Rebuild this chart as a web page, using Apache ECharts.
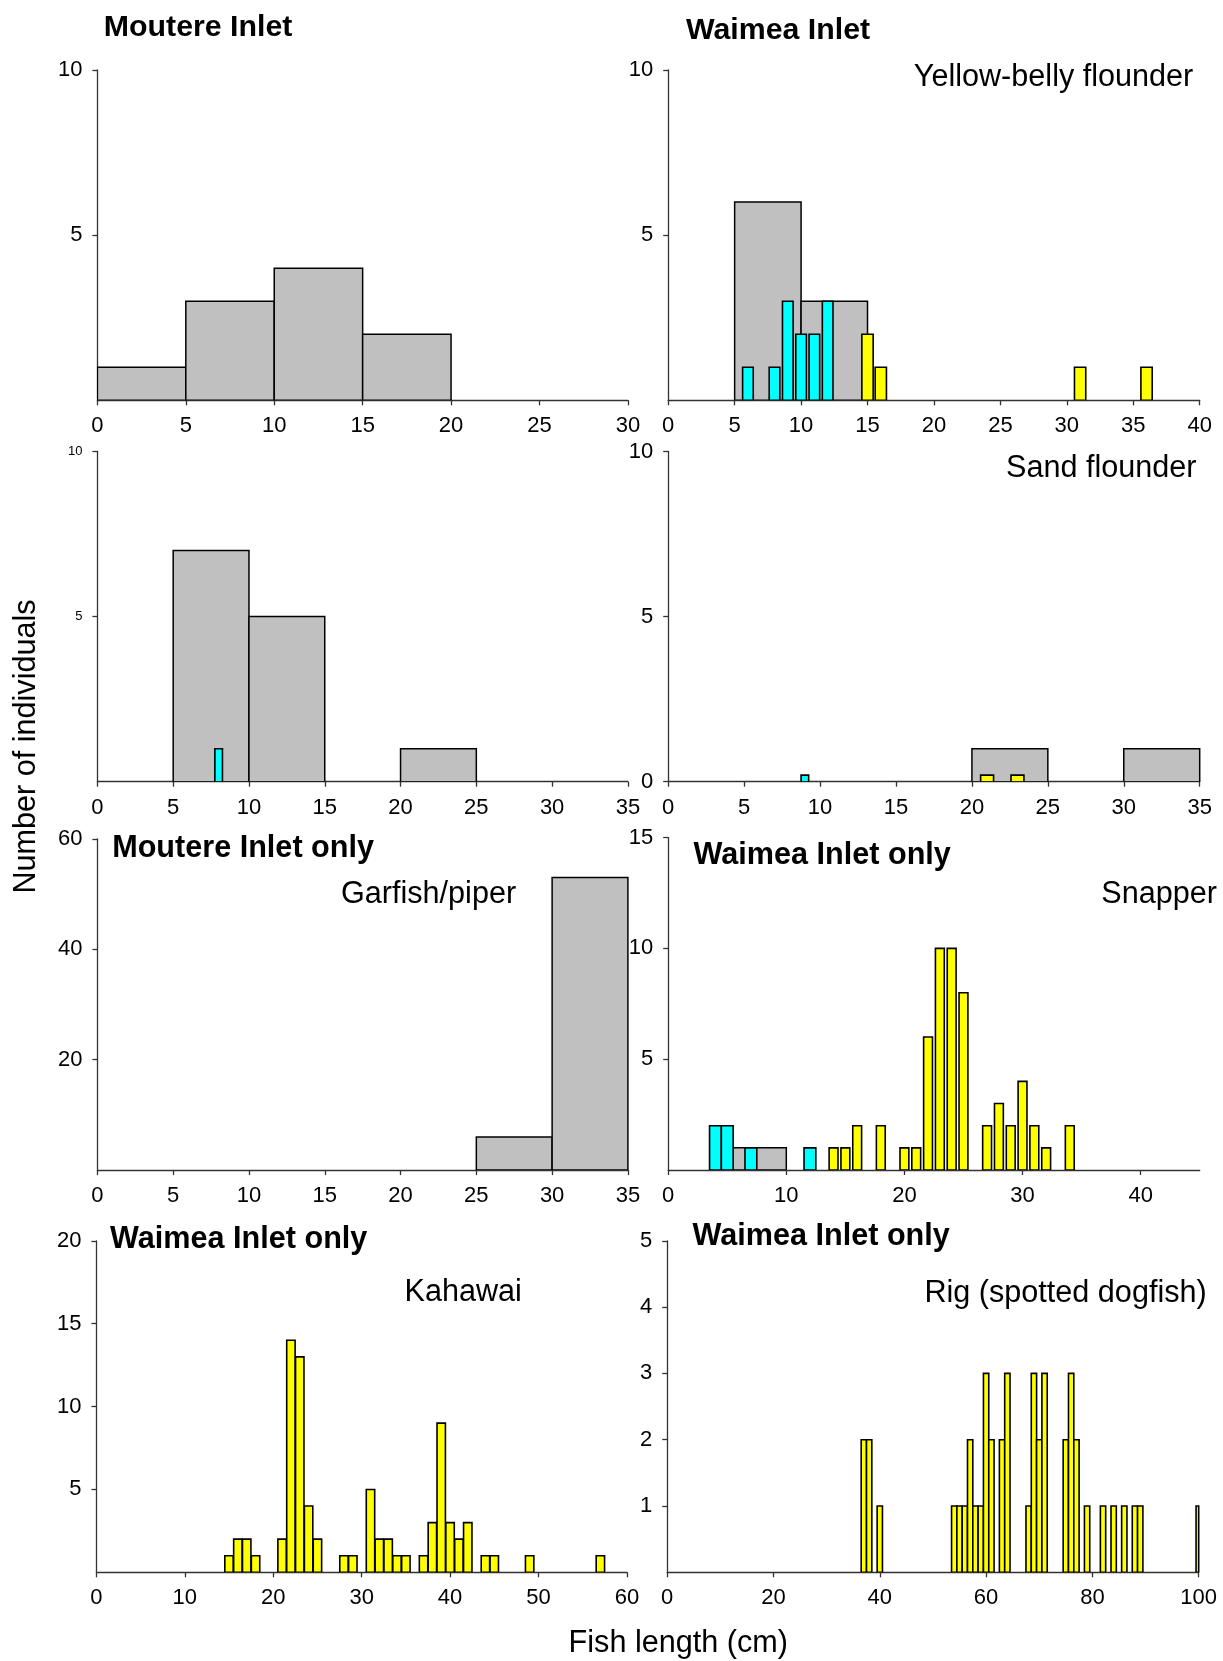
<!DOCTYPE html>
<html>
<head>
<meta charset="utf-8">
<title>Fish length frequencies – Moutere and Waimea inlets</title>
<script src="https://cdn.jsdelivr.net/npm/echarts@6/dist/echarts.min.js"></script>
<style>
  html, body { margin: 0; padding: 0; background: #fff; }
  #chart { width: 1223px; height: 1661px; }
</style>
</head>
<body>
<div id="chart"></div>
<script>
// ---- Data -----------------------------------------------------------------
// Width (cm) of the grouped length-frequency classes (grey columns)
const BIN_CM = 5;

// Yellow-belly flounder, Moutere Inlet
const mYbBins = [0, 5, 10, 15];
const mYbCounts = [1, 3, 4, 2];

// Yellow-belly flounder, Waimea Inlet
const wYbBins = [5, 10];
const wYbCounts = [6, 3];
const wYbCyanLen = [6, 8, 9, 10, 11, 12];
const wYbCyanN = [1, 1, 3, 2, 2, 3];
const wYbYellowLen = [15, 16, 31, 36];
const wYbYellowN = [2, 1, 1, 1];

// Sand flounder, Moutere Inlet
const mSfBins = [5, 10, 20];
const mSfCounts = [7, 5, 1];
const mSfCyanLen = [8];
const mSfCyanN = [1];

// Sand flounder, Waimea Inlet
const wSfBins = [20, 30];
const wSfCounts = [1, 1];
const wSfCyanLen = [9];
const wSfCyanN = [0.2];
const wSfYellowLen = [21, 23];
const wSfYellowN = [0.2, 0.2];

// Garfish/piper, Moutere Inlet only
const garBins = [25, 30];
const garCounts = [6, 53];

// Snapper, Waimea Inlet only
const snapBins = [5];
const snapCounts = [1];
const snapCyanLen = [4, 5, 7, 12];
const snapCyanN = [2, 2, 1, 1];
const snapYellowLen = [14, 15, 16, 18, 20, 21, 22, 23, 24, 25, 27, 28, 29, 30, 31, 32, 34];
const snapYellowN = [1, 1, 2, 2, 1, 1, 6, 10, 10, 8, 2, 3, 2, 4, 2, 1, 2];

// Kahawai, Waimea Inlet only
const kahLen = [15, 16, 17, 18, 21, 22, 23, 24, 25, 28, 29, 31, 32, 33, 34, 35, 37, 38, 39, 40, 41, 42, 44, 45, 49, 57];
const kahN = [1, 2, 2, 1, 2, 14, 13, 4, 2, 1, 1, 5, 2, 2, 1, 1, 1, 3, 9, 3, 2, 3, 1, 1, 1, 1];

// Rig (spotted dogfish), Waimea Inlet only
const rigLen = [37, 38, 40, 54, 55, 56, 57, 58, 59, 60, 61, 63, 64, 68, 69, 70, 71, 75, 76, 77, 79, 82, 84, 86, 88, 89, 100];
const rigN = [2, 2, 1, 1, 1, 1, 2, 1, 1, 3, 2, 2, 3, 1, 3, 2, 3, 2, 3, 2, 1, 1, 1, 1, 1, 1, 1];

// Tick values
const xTicks30 = [0, 5, 10, 15, 20, 25, 30];
const xTicks35 = [0, 5, 10, 15, 20, 25, 30, 35];
const xTicks40 = [0, 5, 10, 15, 20, 25, 30, 35, 40];
const xTicksSnap = [0, 10, 20, 30, 40];
const xTicks60 = [0, 10, 20, 30, 40, 50, 60];
const xTicks100 = [0, 20, 40, 60, 80, 100];
const yTicks10 = [5, 10];
const yTicks10z = [0, 5, 10];
const yTicks60 = [20, 40, 60];
const yTicks15 = [5, 10, 15];
const yTicks20 = [5, 10, 15, 20];
const yTicks5 = [1, 2, 3, 4, 5];

// ---- Styling ----------------------------------------------------------------
const FONT = '"Liberation Sans", Arial, Helvetica, sans-serif';
const GREY = '#C0C0C0';
const CYAN = '#00FFFF';
const YELLOW = '#FFFF00';
const TICK_FONT = 22;

const chart = echarts.init(document.getElementById('chart'), null, { renderer: 'canvas' });

// Plot areas, one per panel
const grids = [
  { left: 97.4, top: 70,    width: 530.5, height: 330.3 },
  { left: 668.2, top: 70,   width: 531.5, height: 330.3 },
  { left: 97.4, top: 451.5, width: 530.5, height: 330.2 },
  { left: 668.2, top: 451.5, width: 531.5, height: 330.2 },
  { left: 97.4, top: 838.8, width: 530.5, height: 331.3 },
  { left: 668.2, top: 837.6, width: 531.5, height: 332.4 },
  { left: 96.4, top: 1240.8, width: 530.5, height: 331.5 },
  { left: 667.2, top: 1240.8, width: 531.5, height: 331.5 }
].map(g => Object.assign({ containLabel: false, outerBoundsMode: 'none' }, g));

function clipTo(rect, cs) {
  return echarts.graphic.clipRectByRect(rect, { x: cs.x, y: cs.y, width: cs.width, height: cs.height });
}

// Grey columns spanning a whole length class
function classSeries(gi, starts, counts) {
  return {
    type: 'custom', xAxisIndex: gi, yAxisIndex: gi, clip: true,
    data: starts.map((s, i) => [s, counts[i]]),
    renderItem: (params, api) => {
      const s = api.value(0), n = api.value(1);
      const a = api.coord([s, n]);
      const b = api.coord([s + BIN_CM, 0]);
      const shape = clipTo({ x: a[0], y: a[1], width: b[0] - a[0], height: b[1] - a[1] }, params.coordSys);
      return shape && { type: 'rect', shape, style: { fill: GREY, stroke: '#000', lineWidth: 1.5 } };
    }
  };
}

// Narrow columns centred on individual lengths
function lengthSeries(gi, lens, counts, fill, barCm) {
  return {
    type: 'custom', xAxisIndex: gi, yAxisIndex: gi, clip: true,
    data: lens.map((l, i) => [l, counts[i]]),
    renderItem: (params, api) => {
      const l = api.value(0), n = api.value(1);
      const a = api.coord([l - barCm / 2, n]);
      const b = api.coord([l + barCm / 2, 0]);
      const shape = clipTo({ x: a[0], y: a[1], width: b[0] - a[0], height: b[1] - a[1] }, params.coordSys);
      return shape && { type: 'rect', shape, style: { fill, stroke: '#000', lineWidth: 1.6 } };
    }
  };
}

const panels = [
  { xMax: 30, xTicks: xTicks30, yMax: 10, yTicks: yTicks10 },
  { xMax: 40, xTicks: xTicks40, yMax: 10, yTicks: yTicks10 },
  { xMax: 35, xTicks: xTicks35, yMax: 10, yTicks: yTicks10, yFont: 13 },
  { xMax: 35, xTicks: xTicks35, yMax: 10, yTicks: yTicks10z },
  { xMax: 35, xTicks: xTicks35, yMax: 60, yTicks: yTicks60 },
  { xMax: 45, xTicks: xTicksSnap, yMax: 15, yTicks: yTicks15 },
  { xMax: 60, xTicks: xTicks60, yMax: 20, yTicks: yTicks20 },
  { xMax: 100, xTicks: xTicks100, yMax: 5, yTicks: yTicks5 }
];

const axisLine = { show: true, onZero: false, lineStyle: { color: '#333', width: 1.3 } };

const xAxis = panels.map((p, i) => ({
  type: 'value', gridIndex: i, min: 0, max: p.xMax,
  axisLine,
  axisTick: { show: true, length: 5, customValues: p.xTicks, lineStyle: { color: '#333', width: 1.3 } },
  axisLabel: { customValues: p.xTicks, margin: 15, color: '#000', fontSize: TICK_FONT, fontFamily: FONT },
  splitLine: { show: false }
}));

const yAxis = panels.map((p, i) => ({
  type: 'value', gridIndex: i, min: 0, max: p.yMax,
  axisLine,
  axisTick: { show: true, length: 5, customValues: p.yTicks, lineStyle: { color: '#333', width: 1.3 } },
  axisLabel: { customValues: p.yTicks, margin: 15, color: '#000', fontSize: p.yFont || TICK_FONT, fontFamily: FONT },
  splitLine: { show: false }
}));

const series = [
  classSeries(0, mYbBins, mYbCounts),

  classSeries(1, wYbBins, wYbCounts),
  lengthSeries(1, wYbCyanLen, wYbCyanN, CYAN, 0.8),
  lengthSeries(1, wYbYellowLen, wYbYellowN, YELLOW, 0.85),

  classSeries(2, mSfBins, mSfCounts),
  lengthSeries(2, mSfCyanLen, mSfCyanN, CYAN, 0.5),

  classSeries(3, wSfBins, wSfCounts),
  lengthSeries(3, wSfCyanLen, wSfCyanN, CYAN, 0.5),
  lengthSeries(3, wSfYellowLen, wSfYellowN, YELLOW, 0.85),

  classSeries(4, garBins, garCounts),

  classSeries(5, snapBins, snapCounts),
  lengthSeries(5, snapCyanLen, snapCyanN, CYAN, 1.0),
  lengthSeries(5, snapYellowLen, snapYellowN, YELLOW, 0.75),

  lengthSeries(6, kahLen, kahN, YELLOW, 0.95),

  lengthSeries(7, rigLen, rigN, YELLOW, 1.0)
];

function label(text, x, y, opts) {
  opts = opts || {};
  return {
    type: 'text', x, y, rotation: opts.rotation || 0, z: 10,
    style: {
      text,
      font: (opts.bold ? 'bold ' : '') + (opts.size || 30.6) + 'px ' + FONT,
      fill: '#000',
      align: opts.align || 'left',
      verticalAlign: 'middle'
    }
  };
}

const graphic = [
  label('Moutere Inlet', 103.8, 28, { bold: true, size: 30.3 }),
  label('Waimea Inlet', 686, 31, { bold: true, size: 30.3 }),
  label('Yellow-belly flounder', 913.8, 78),
  label('Sand flounder', 1006, 469),
  label('Moutere Inlet only', 112.2, 848.5, { bold: true }),
  label('Garfish/piper', 341, 894.6),
  label('Waimea Inlet only', 693.6, 855.5, { bold: true }),
  label('Snapper', 1101.3, 894.6),
  label('Waimea Inlet only', 110.1, 1240, { bold: true }),
  label('Kahawai', 404.5, 1293),
  label('Waimea Inlet only', 692.5, 1237, { bold: true }),
  label('Rig (spotted dogfish)', 924.4, 1294),
  label('Number of individuals', 27, 746.5, { rotation: Math.PI / 2, align: 'center' }),
  label('Fish length (cm)', 568.6, 1644)
];

chart.setOption({
  animation: false,
  backgroundColor: '#fff',
  grid: grids,
  xAxis,
  yAxis,
  series,
  graphic
});
</script>
</body>
</html>
